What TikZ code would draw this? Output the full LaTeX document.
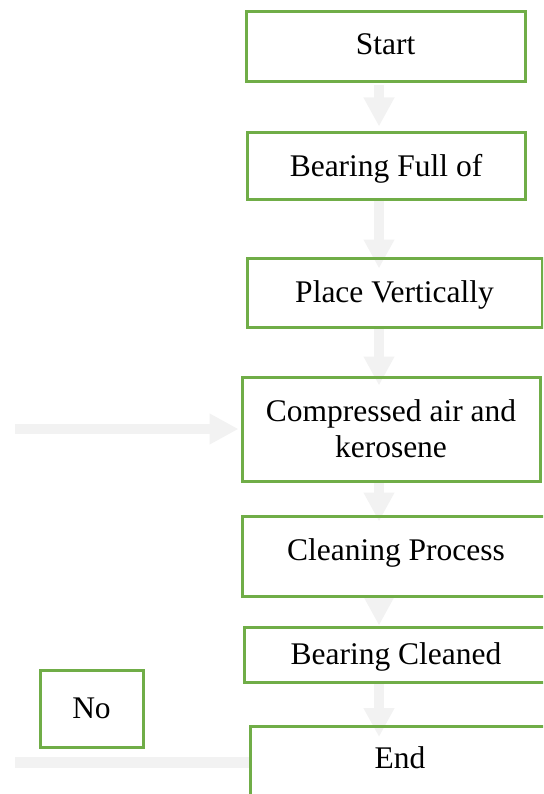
\documentclass[tikz,border=0pt]{standalone}
\usepackage{fontspec}
\setmainfont{Liberation Serif}
\usetikzlibrary{arrows.meta,backgrounds}
\definecolor{boxgreen}{HTML}{70AD47}
\definecolor{arrowgray}{HTML}{F2F2F2}
\begin{document}
\begin{tikzpicture}[x=1pt,y=-1pt,
  stepbox/.style={draw=boxgreen, line width=3pt, inner sep=0pt, align=center,
    font=\fontsize{31.5}{36}\selectfont, text height=25pt, text depth=5pt},
  flow/.style={draw=arrowgray, line width=10pt, -{Triangle[length=29pt,width=29pt,fill=arrowgray]}},
  bar/.style={draw=arrowgray, line width=11pt}
]
\useasboundingbox (0,0) rectangle (543,794);
\clip (0,0) rectangle (543,794);

\node[stepbox, minimum width=279pt, minimum height=70pt] (start) at (385.5,47) {\raisebox{2pt}{Start}};
\node[stepbox, minimum width=278pt, minimum height=67pt] (full) at (386,166.5) {Bearing Full of};
\node[stepbox, minimum width=295pt, minimum height=69pt] (place) at (394.5,292.5) {Place Vertically};
\node[stepbox, minimum width=298pt, minimum height=104pt, text height={}, text depth={}] (comp) at (391,429) {Compressed air and\\kerosene};
\node[stepbox, minimum width=308pt, minimum height=80pt] (clean) at (396,556) {\raisebox{6pt}{Cleaning Process}};
\node[stepbox, minimum width=304pt, minimum height=55pt] (bclean) at (396,654.5) {Bearing Cleaned};
\node[stepbox, minimum width=300pt, text height=42pt, text depth=60pt, anchor=north] (end) at (400,725) {End};
\node[stepbox, minimum width=103pt, minimum height=77pt] (no) at (91.5,708.5) {No};

\coordinate (ax) at (379,0);
\coordinate (feed) at (15,429);
\coordinate (fb) at (15,762);

\begin{scope}[on background layer]
  \draw[flow, shorten <=2pt, shorten >=5pt] (start.south -| ax) -- (full.north -| ax);
  \draw[flow, shorten >=-12pt] (full.south -| ax) -- (place.north -| ax);
  \draw[flow, shorten >=-10pt] (place.south -| ax) -- (comp.north -| ax);
  \draw[flow, shorten >=-7pt] (comp.south -| ax) -- (clean.north -| ax);
  \draw[flow] (clean.south -| ax) -- (bclean.north -| ax);
  \draw[flow, shorten >=-12pt] (bclean.south -| ax) -- (end.north -| ax);
  \draw[flow, shorten >=2pt] (feed) -- (comp.west);
  \draw[bar] (fb) -- (fb -| end.west);
\end{scope}
\end{tikzpicture}
\end{document}
